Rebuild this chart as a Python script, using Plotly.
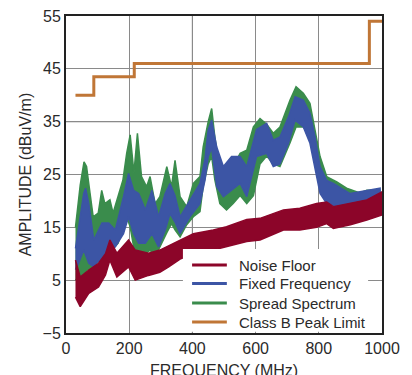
import plotly.graph_objects as go

# ---- data ----
limit_freq = [30, 88, 88, 216, 216, 960, 960, 1000]
limit_amp = [40, 40, 43.5, 43.5, 46, 46, 54, 54]

spread_freq = [30, 40, 45, 57, 65, 76, 86, 102, 113, 123, 139, 149, 165, 180, 192, 203, 215, 226, 239,
               255, 266, 282, 297, 319, 334, 345, 361, 382, 403, 424, 434, 450, 461, 471, 487, 508,
               529, 551, 572, 593, 614, 635, 656, 677, 709, 728, 751, 772, 788, 804, 825, 857, 888,
               930, 952, 994]
spread_top = [15, 21, 23, 27.4, 26.5, 21.5, 17, 17.7, 22, 19.5, 20.2, 17.7, 20.8, 23.9, 29, 32.5, 25.3,
              32.8, 24.6, 22.7, 24.6, 19.5, 20.8, 26.5, 22.7, 27.7, 20.8, 18.9, 23.3, 24.6, 30.2, 35,
              37.5, 32.1, 25.8, 23.9, 26.5, 29, 29.6, 34, 35.6, 34.5, 32.8, 34, 39.1, 41.6, 40.4, 38.5,
              33.4, 28.4, 24.6, 23.6, 22.4, 21.5, 22, 22]
spread_bot = [5, 5.5, 5.3, 6, 6.9, 7, 7.5, 8.5, 9, 9.4, 10.5, 11, 12, 15, 17, 15.1, 11, 10, 9.4,
              10.2, 10.7, 9.4, 11.3, 14, 15.7, 14.5, 13.2, 15.5, 17, 18, 22.7, 27, 28.4, 24, 19.5,
              18.3, 19.5, 21, 19.5, 21, 27, 28.5, 27, 26.5, 31, 34, 34, 32.5, 29, 22.5, 20.2, 19.5,
              19, 19, 19.5, 20]

fixed_freq = [30, 40, 56, 62, 72, 88, 100, 114, 135, 156, 182, 198, 214, 230, 251, 272, 293, 314, 329,
              345, 361, 392, 424, 440, 450, 461, 477, 498, 524, 551, 572, 603, 635, 656, 677, 704,
              725, 751, 772, 788, 804, 825, 846, 899, 952, 994]
fixed_top = [11, 15.1, 21.4, 22.4, 19.5, 12.6, 14, 15.8, 15.8, 14.5, 20.8, 25.2, 22, 21.4, 18.3, 22,
             17, 21.4, 23.3, 21, 17, 20.2, 23.3, 28, 33.4, 35.3, 30.2, 26.5, 28.4, 28.4, 26.5, 33.5,
             34.7, 31.5, 32.1, 35.9, 39.7, 39.1, 36.6, 32.1, 26.5, 23.9, 23.3, 21.4, 22, 22.4]
fixed_bot = [7, 8.2, 10.7, 10, 8.2, 7.5, 8.5, 8.8, 10.7, 11.3, 13.8, 17, 13.8, 12, 12, 13.8, 11.3,
             14.5, 17.6, 16, 13.8, 17, 19.5, 24, 28.4, 30, 22.7, 20.8, 22, 23.3, 20.8, 28.4, 29,
             26.5, 27, 30.9, 35.3, 34, 30.9, 26.5, 21.4, 19.5, 19.2, 18.9, 19.5, 20]

noise_freq = [30, 45, 72, 103, 125, 139, 161, 198, 219, 261, 297, 325, 361, 403, 466, 508, 572, 614,
              688, 740, 793, 825, 846, 900, 952, 999]
noise_top = [8.8, 5.6, 6.9, 8.2, 10, 12.6, 10.1, 12.6, 10.7, 10.1, 10.7, 11.5, 12.5, 13.8, 14.5,
             15.1, 16.5, 16.7, 18.3, 18.6, 19.5, 19.8, 18.9, 19.5, 20.2, 21.7]
noise_bot = [1.8, 0, 2.5, 3.7, 6, 8.8, 5.6, 7.5, 5, 5.9, 6.5, 7.5, 9, 10, 10.7, 11.3, 12.3, 12.6,
             14.5, 14.5, 15, 15.7, 14.8, 15.5, 16.4, 17.3]

series_names = ["Noise Floor", "Fixed Frequency", "Spread Spectrum", "Class B Peak Limit"]
x_ticks = [0, 200, 400, 600, 800, 1000]
y_ticks = [-5, 5, 15, 25, 35, 45, 55]
x_title = "FREQUENCY (MHz)"
y_title = "AMPLITUDE (dBuV/m)"

RED, BLUE, GREEN, ORANGE = "#8c0529", "#3c55a5", "#3a8c4c", "#c07636"
COLORS = [RED, BLUE, GREEN, ORANGE]
FONT = "Liberation Sans Narrow, Arial Narrow, Liberation Sans, sans-serif"

fig = go.Figure()


def band(freq, top, bot, color, name):
    fig.add_trace(go.Scatter(
        x=list(freq) + list(freq[::-1]),
        y=list(top) + list(bot[::-1]),
        fill="toself", fillcolor=color, mode="lines", name=name,
        line=dict(color=color, width=1.5),
        showlegend=False, hoverinfo="skip"))


band(spread_freq, spread_top, spread_bot, GREEN, series_names[2])
band(fixed_freq, fixed_top, fixed_bot, BLUE, series_names[1])
band(noise_freq, noise_top, noise_bot, RED, series_names[0])

fig.add_trace(go.Scatter(x=limit_freq, y=limit_amp, mode="lines", name=series_names[3],
                         line=dict(color=ORANGE, width=3), showlegend=False))

# darker grid lines as in the reference
fig.add_shape(type="line", xref="x", yref="paper", x0=400, x1=400, y0=0, y1=1,
              line=dict(color="#333", width=1), layer="below")
fig.add_shape(type="line", xref="paper", yref="y", x0=0, x1=1, y0=35, y1=35,
              line=dict(color="#333", width=1), layer="below")

# legend box (drawn in the lower right of the plot, as in the reference)
fig.add_shape(type="rect", xref="paper", yref="paper", x0=0.370, x1=0.956, y0=0.004, y1=0.265,
              fillcolor="white", line=dict(width=0), layer="above")
legend_y = [0.2145, 0.156, 0.0946, 0.0347]
for name, col, ly in zip(series_names, COLORS, legend_y):
    fig.add_shape(type="line", xref="paper", yref="paper", x0=0.399, x1=0.509, y0=ly, y1=ly,
                  line=dict(color=col, width=3), layer="above")
    fig.add_annotation(text=name, xref="paper", yref="paper", x=0.541, y=ly,
                       xanchor="left", yanchor="middle", showarrow=False,
                       font=dict(size=15, color="#2a2a2a"))

fig.add_annotation(text=x_title, xref="paper", yref="paper", x=0.5, y=-0.085,
                   xanchor="center", yanchor="top", showarrow=False,
                   font=dict(size=16, color="#2a2a2a"))
fig.add_annotation(text=y_title, xref="paper", yref="paper", x=-0.127, y=0.5,
                   xanchor="center", yanchor="middle", textangle=-90, showarrow=False,
                   font=dict(size=16, color="#2a2a2a"))

fig.update_layout(
    width=404, height=367,
    margin=dict(l=58, r=30, t=8, b=42),
    paper_bgcolor="white", plot_bgcolor="white",
    font=dict(family=FONT, size=16, color="#2a2a2a"),
    showlegend=False,
    xaxis=dict(range=[0, 1000], tickvals=x_ticks, ticks="", showgrid=True,
               gridcolor="#8a8a8a", gridwidth=1, zeroline=False, automargin=False,
               ticklabeloverflow="allow",
               showline=True, linecolor="#222", linewidth=2, mirror=True),
    yaxis=dict(range=[-5, 55], tickvals=y_ticks, ticks="", showgrid=True,
               gridcolor="#8a8a8a", gridwidth=1, zeroline=False, automargin=False,
               ticklabeloverflow="allow",
               showline=True, linecolor="#222", linewidth=2, mirror=True),
)

fig.write_html("out.html")
